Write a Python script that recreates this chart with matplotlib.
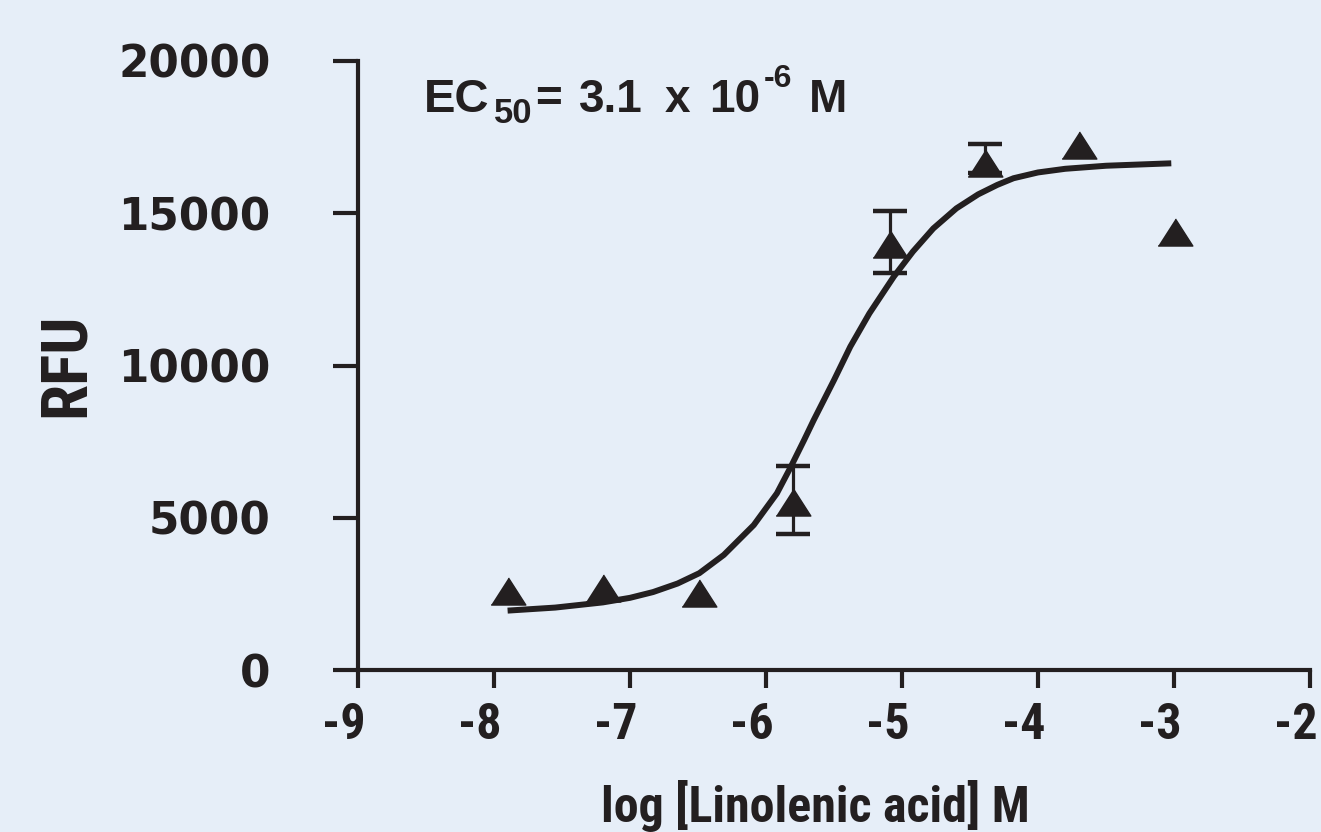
import matplotlib.pyplot as plt
from matplotlib import font_manager
from matplotlib.transforms import ScaledTranslation

# Measured points (log M, RFU)
log_conc = [-7.90, -7.20, -6.49, -5.80, -5.09, -4.39, -3.70, -2.99]
rfu = [2610, 2680, 2530, 5520, 13990, 16640, 17250, 14370]

# Points that carry error bars
err_x = [-5.80, -5.09, -4.39]
err_y = [5520, 13990, 16640]
err_low = [1060, 960, 310]
err_high = [1180, 1080, 620]

# Fitted curve
curve_x = [-7.90, -7.55, -7.20, -7.00, -6.83, -6.65, -6.49, -6.31, -6.09, -5.92,
           -5.82, -5.72, -5.65, -5.50, -5.38, -5.24, -5.06, -4.92, -4.77, -4.60,
           -4.44, -4.30, -4.18, -4.00, -3.80, -3.50, -3.02]
curve_y = [1950, 2050, 2220, 2370, 2560, 2840, 3180, 3780, 4760, 5800,
           6650, 7550, 8200, 9520, 10620, 11710, 12920, 13740, 14500, 15160,
           15620, 15930, 16150, 16340, 16460, 16560, 16640]

x_ticks = [-9, -8, -7, -6, -5, -4, -3, -2]
y_ticks = [0, 5000, 10000, 15000, 20000]

ink = '#231F20'
bg = '#E6EEF8'
W, H = 1321, 832

names = {f.name for f in font_manager.fontManager.ttflist}
narrow = None
for cand in ['Liberation Sans Narrow', 'Roboto Condensed', 'Open Sans Condensed',
             'Noto Sans Condensed', 'DejaVu Sans Condensed', 'Arial Narrow']:
    if cand in names:
        narrow = cand
        break
if narrow is None:
    narrow = 'Liberation Sans'
    xt_size, xl_size, yl_size = 31, 31, 42
else:
    xt_size, xl_size, yl_size = 36, 36, 47

fig = plt.figure(figsize=(W / 100, H / 100), dpi=100, facecolor=bg)
ax = fig.add_axes([358 / W, 1 - 670 / H, 952 / W, 609 / H])
ax.set_facecolor(bg)

ax.plot(curve_x, curve_y, color=ink, lw=4.3, solid_capstyle='butt', zorder=2)

tri = [(-1, -0.78), (1, -0.78), (0, 0.78)]
ax.errorbar(err_x, err_y, yerr=[err_low, err_high], fmt='none', ecolor=ink,
            elinewidth=2.3, capsize=12.5, capthick=3.2, zorder=3)
ax.plot(log_conc, rfu, linestyle='none', marker=tri, markersize=25,
        color=ink, zorder=4)

ax.set_xlim(-9, -2)
ax.set_ylim(0, 20000)
ax.set_xticks(x_ticks)
ax.set_yticks(y_ticks)

for s in ['top', 'right']:
    ax.spines[s].set_visible(False)
for s in ['left', 'bottom']:
    ax.spines[s].set_linewidth(3)
    ax.spines[s].set_color(ink)

ax.tick_params(axis='x', direction='out', length=13, width=3, color=ink, pad=10)
ax.tick_params(axis='y', direction='out', length=18, width=3, color=ink, pad=45)

ax.set_xticklabels([str(v) for v in x_ticks], family=narrow, fontweight='bold',
                   fontsize=xt_size, color=ink)
ax.set_yticklabels([str(v) for v in y_ticks], family='DejaVu Sans', fontweight='bold',
                   fontsize=31.5, color=ink)
shift = ScaledTranslation(-14 / 100, 0, fig.dpi_scale_trans)
for lab in ax.get_xticklabels():
    lab.set_transform(lab.get_transform() + shift)

fig.text(815 / W, 1 - 822 / H, 'log [Linolenic acid] M', family=narrow,
         fontweight='bold', fontsize=xl_size, color=ink, ha='center', va='baseline')
fig.text(66 / W, 1 - 365 / H, 'RFU', family=narrow, fontweight='bold',
         fontsize=yl_size, color=ink, ha='center', va='center', rotation=90)

# EC50 annotation, laid out piece by piece like the original
ec_parts = [('EC', 424, 112, 34), ('50', 494, 123, 25), ('=', 535, 112, 33),
            ('3.1', 579, 112, 33), ('x', 665, 112, 33), ('10', 709, 112, 33),
            ('-6', 764, 87, 23), ('M', 809, 112, 33)]
for txt, px, py, fs in ec_parts:
    fig.text(px / W, 1 - py / H, txt, family='Liberation Sans', fontweight='bold',
             fontsize=fs, color=ink, ha='left', va='baseline')

fig.savefig('out.png', dpi=100, facecolor=bg)
